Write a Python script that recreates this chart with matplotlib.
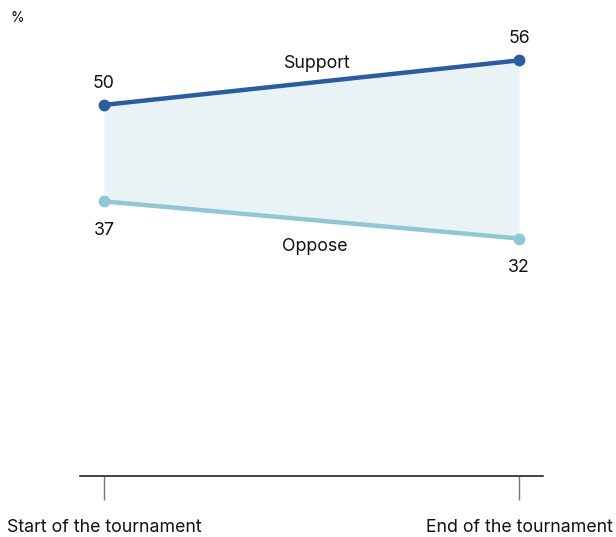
import matplotlib
matplotlib.use("Agg")
import matplotlib.pyplot as plt

# survey values, % at start and end of the tournament
periods = ["Start of the tournament", "End of the tournament"]
support = [50, 56]
oppose = [37, 32]

plt.rcParams['font.family'] = ['Inter', 'DejaVu Sans']

fig = plt.figure(figsize=(6.16, 5.37), dpi=100)
ax = fig.add_axes([80/616, (537-476)/537, 463/616, 475/537])

x = [0, 1]
ax.fill_between(x, oppose, support, color="#e9f3f6", lw=0)
ax.plot(x, support, color="#2a5d9f", lw=3.2, marker="o", ms=7.5, solid_capstyle="round")
ax.plot(x, oppose, color="#8fc7d5", lw=3.2, marker="o", ms=7.5, solid_capstyle="round")

ax.set_xlim(-24/415, 1 + 24/415)
ax.set_ylim(0, 64)

fs = 12.8
for i in x:
    ax.annotate(str(support[i]), (i, support[i]), xytext=(0, 9.5), textcoords="offset points",
                ha="center", va="bottom", fontsize=fs, color="#111111")
    ax.annotate(str(oppose[i]), (i, oppose[i]), xytext=(0, -15), textcoords="offset points",
                ha="center", va="top", fontsize=fs, color="#111111")

ax.annotate("Support", (0.513, (support[0] + support[1]) / 2), xytext=(0, 8),
            textcoords="offset points", ha="center", va="bottom", fontsize=fs, color="#111111")
ax.annotate("Oppose", (0.508, (oppose[0] + oppose[1]) / 2), xytext=(0, -13),
            textcoords="offset points", ha="center", va="top", fontsize=fs, color="#111111")

fig.text(17/616, 1 - 18/537, "%", ha="center", va="center", fontsize=10, color="#111111")

for s in ["top", "right", "left"]:
    ax.spines[s].set_visible(False)
ax.spines["bottom"].set_color("#111111")
ax.spines["bottom"].set_linewidth(1.1)
ax.set_yticks([])
ax.set_xticks(x)
ax.set_xticklabels(periods, fontsize=fs, color="#111111")
ax.tick_params(axis="x", length=17, width=1, color="#777777", pad=14)

fig.savefig("out.png", dpi=100)
